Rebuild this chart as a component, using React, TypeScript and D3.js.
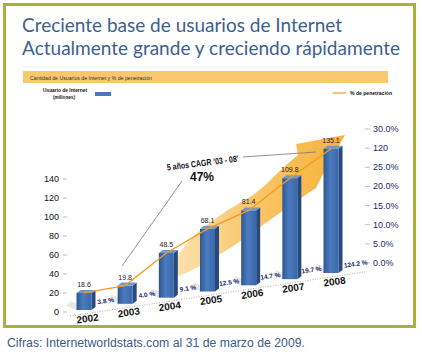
import React from "react";
import * as d3 from "d3";

const years = ["2002", "2003", "2004", "2005", "2006", "2007", "2008"];
const users = [18.6, 19.8, 48.5, 68.1, 81.4, 109.8, 135.1];
const userLabels = ["18.6", "19.8", "48.5", "68.1", "81.4", "109.8", "135.1"];
const penetrationLabels = ["3.8 %", "4.0 %", "9.1 %", "12.5 %", "14.7 %", "19.7 %", "124.2 %"];
const leftTicks = [0, 20, 40, 60, 80, 100, 120, 140];
const rightTickLabels = ["30.0%", "120", "25.0%", "20.0%", "15.0%", "10.0%", "5.0%", "0.0%"];

const W = 422;
const H = 360;
const NARROW = "'Liberation Sans Narrow', 'Liberation Sans', Arial, sans-serif";

export default function App() {
  const x = d3.scalePoint<string>().domain(years).range([84, 331]);
  const floorY = d3.scaleLinear().domain([84, 331]).range([310, 273]);
  const hScale = d3.scaleLinear().domain([0, 150]).range([0, 138]);
  const leftY = d3.scaleLinear().domain([0, 140]).range([312, 179]);
  const rightY = d3.scalePoint<string>().domain(rightTickLabels).range([129, 263]);

  const bw = 15;
  const dx = 4, dy = 3;

  const bars = years.map((yr, i) => {
    const cx = x(yr) as number;
    const base = floorY(cx);
    const top = base - hScale(users[i]);
    return { yr, cx, base, top, x0: cx - bw / 2, x1: cx + bw / 2, i };
  });

  const linePts: [number, number][] = bars.map((b) => [b.cx, b.top]);
  const linePath = d3.line()(linePts) as string;

  const upper: [number, number][] = [[162, 280], [190, 240], [222, 214], [257, 192], [283, 168], [298, 155]];
  const lower: [number, number][] = [[316, 188], [298, 200], [270, 220], [230, 248], [192, 270], [162, 283]];
  const curve = d3.line().curve(d3.curveCatmullRom);
  const upperPath = curve(upper) as string;
  const lowerPath = (curve(lower) as string).replace(/^M/, "L");
  const bandPath = `${upperPath}L296,144L345,135L322,176${lowerPath}Z`;

  const floorStart = 70, floorEnd = 367;
  const floorLineY = (xx: number) => floorY(xx) + 4;

  return (
    <svg
      width={W}
      height={H}
      style={{ position: "absolute", left: 0, top: 0, background: "#fff" }}
      fontFamily="'Liberation Sans', Arial, sans-serif"
    >
      <defs>
        <linearGradient id="band" x1="160" y1="0" x2="345" y2="0" gradientUnits="userSpaceOnUse">
          <stop offset="0" stopColor="#fde6bb" />
          <stop offset="0.5" stopColor="#f9c66a" />
          <stop offset="1" stopColor="#f6b23c" />
        </linearGradient>
        <linearGradient id="front" x1="0" y1="0" x2="1" y2="0">
          <stop offset="0" stopColor="#2d5792" />
          <stop offset="0.45" stopColor="#4b7cc0" />
          <stop offset="1" stopColor="#3a67a8" />
        </linearGradient>
      </defs>

      <rect x={0} y={0} width={W} height={H} fill="#fff" />
      <rect x={4.5} y={4.5} width={410} height={322} fill="none" stroke="#a7b23a" strokeWidth={3} />

      <g fill="#3d5f8f" fontFamily="Lato, 'Open Sans', sans-serif" fontSize={20}>
        <text x={22} y={32} textLength={320} lengthAdjust="spacingAndGlyphs">
          Creciente base de usuarios de Internet
        </text>
        <text x={22} y={55} textLength={378} lengthAdjust="spacingAndGlyphs">
          Actualmente grande y creciendo rápidamente
        </text>
      </g>
      <line x1={22} x2={388} y1={67} y2={67} stroke="#f0f0f0" strokeWidth={1} />

      <rect x={23} y={71} width={365} height={12} fill="#fac76c" />
      <text x={30} y={79.5} fontSize={6} fill="#333" textLength={122} lengthAdjust="spacingAndGlyphs">
        Cantidad de Usuarios de Internet y % de penetración
      </text>

      <g fontSize={6} fontWeight="bold" fill="#111">
        <text x={43} y={92} textLength={44} lengthAdjust="spacingAndGlyphs">Usuario de Internet</text>
        <text x={53} y={99} textLength={22} lengthAdjust="spacingAndGlyphs">(millones)</text>
        <text x={350} y={95} textLength={42} lengthAdjust="spacingAndGlyphs">% de penetración</text>
      </g>
      <rect x={95} y={92} width={16} height={4} fill="#4a78b8" />
      <line x1={333} x2={346} y1={93} y2={93} stroke="#f39a1c" strokeWidth={1.2} />

      <g fontSize={9} fill="#111">
        {leftTicks.map((t) => (
          <g key={t}>
            <text x={59} y={leftY(t) + 3} textAnchor="end">{t}</text>
            <line x1={63} x2={67} y1={leftY(t)} y2={leftY(t)} stroke="#999" strokeWidth={0.6} />
          </g>
        ))}
      </g>

      <g fontSize={9} fill="#1c2a6b" fontFamily={NARROW}>
        {rightTickLabels.map((t) => (
          <g key={t}>
            <text x={373} y={(rightY(t) as number) + 3}>{t}</text>
            <line x1={365} x2={370} y1={rightY(t) as number} y2={rightY(t) as number} stroke="#999" strokeWidth={0.6} />
          </g>
        ))}
      </g>

      <line
        x1={floorStart}
        y1={floorLineY(floorStart)}
        x2={floorEnd}
        y2={floorLineY(floorEnd)}
        stroke="#999"
        strokeWidth={0.8}
        strokeDasharray="1,1.5"
      />
      {bars.map((b) => (
        <polygon
          key={"sh" + b.yr}
          points={`${b.x0},${b.base} ${b.x0 - 10},${b.base - 4} ${b.x0 - 6},${b.base - 9} ${b.x0 + 4},${b.base - 5}`}
          fill="#e8e8e8"
        />
      ))}

      <path d={bandPath} fill="url(#band)" />

      <line x1={122} y1={266} x2={182} y2={181} stroke="#777" strokeWidth={0.8} />
      <line x1={243} y1={157} x2={316} y2={152} stroke="#777" strokeWidth={0.8} />
      <text
        x={203}
        y={166}
        fontSize={9}
        fontWeight="bold"
        fill="#111"
        textAnchor="middle"
        transform="rotate(-7 203 166)"
        fontFamily={NARROW}
        textLength={72}
        lengthAdjust="spacingAndGlyphs"
      >
        5 años CAGR '03 - 08'
      </text>
      <text x={202} y={181} fontSize={12} fontWeight="bold" fill="#111" textAnchor="middle" fontFamily={NARROW}>
        47%
      </text>

      {bars.map((b) => (
        <g key={"bar" + b.yr}>
          <polygon
            points={`${b.x1},${b.top} ${b.x1 + dx},${b.top - dy} ${b.x1 + dx},${b.base - dy} ${b.x1},${b.base}`}
            fill="#264a80"
          />
          <rect x={b.x0} y={b.top} width={bw} height={b.base - b.top} fill="url(#front)" />
          <polygon
            points={`${b.x0},${b.top} ${b.x0 + dx},${b.top - dy} ${b.x1 + dx},${b.top - dy} ${b.x1},${b.top}`}
            fill="#6f98d2"
          />
        </g>
      ))}

      <path d={linePath} fill="none" stroke="#f39a1c" strokeWidth={1.3} />

      <g fontSize={7} fill="#222" textAnchor="middle" fontFamily={NARROW}>
        {bars.map((b) => (
          <text key={"v" + b.yr} x={b.cx} y={b.top - 6}>{userLabels[b.i]}</text>
        ))}
      </g>

      <g fontSize={6.5} fontWeight="bold" fill="#1c2a6b" textAnchor="middle" fontFamily={NARROW}>
        {bars.map((b) => {
          const px = b.cx + (b.i === 6 ? 25 : 22);
          const py = b.base - 7;
          return (
            <text key={"p" + b.yr} x={px} y={py} transform={`rotate(-8 ${px} ${py})`}>
              {penetrationLabels[b.i]}
            </text>
          );
        })}
      </g>

      <g fontSize={10} fontWeight="bold" fill="#111" textAnchor="middle" fontFamily={NARROW}>
        {bars.map((b) => {
          const px = b.cx + 4;
          const py = b.base + 12;
          return (
            <text key={"y" + b.yr} x={px} y={py} transform={`rotate(-8 ${px} ${py})`}>
              {b.yr}
            </text>
          );
        })}
      </g>

      <text x={7} y={347} fontSize={12} fill="#3a5c8c" textLength={298} lengthAdjust="spacingAndGlyphs">
        Cifras: Internetworldstats.com al 31 de marzo de 2009.
      </text>
    </svg>
  );
}
